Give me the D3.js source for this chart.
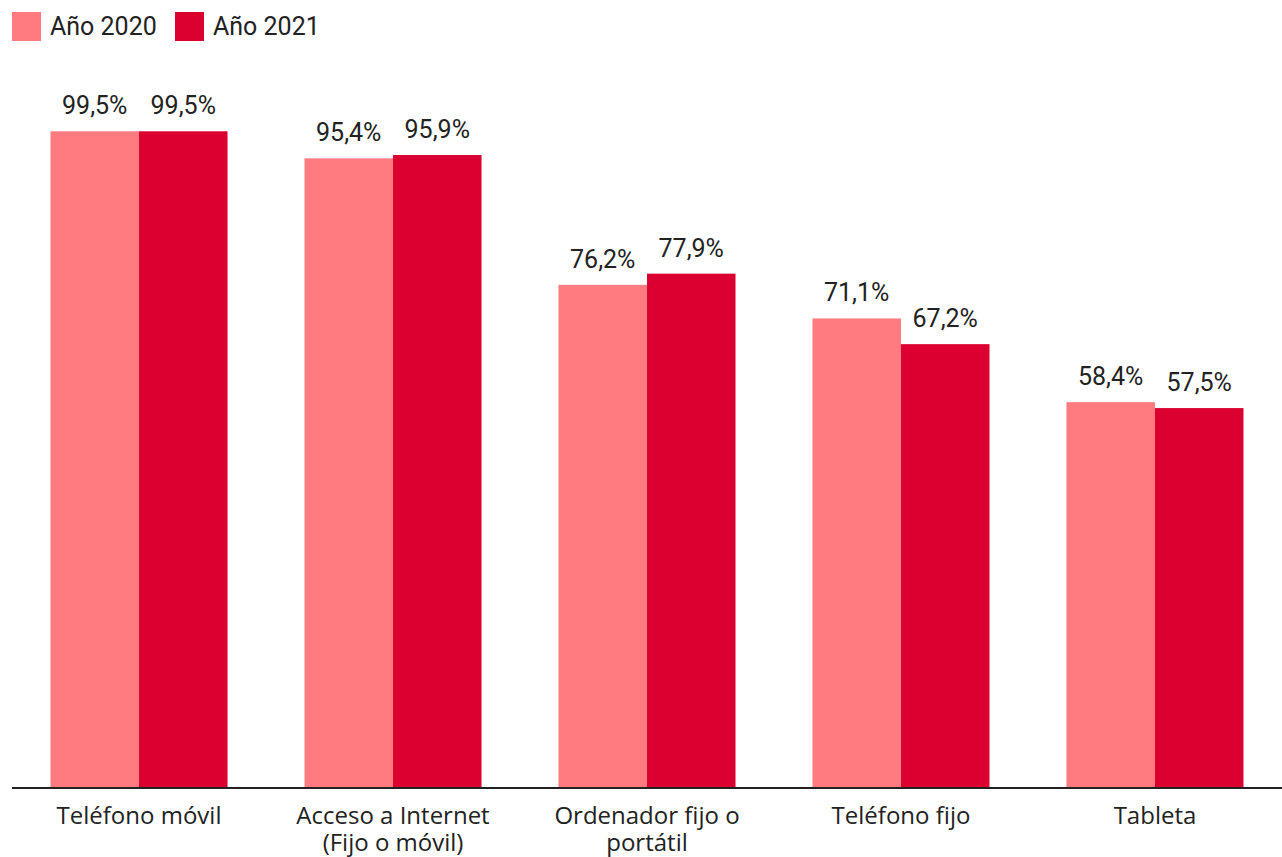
<!DOCTYPE html>
<html lang="es">
<head>
<meta charset="utf-8">
<script src="https://cdn.jsdelivr.net/npm/d3@7"></script>
<style>
  body { margin: 0; background: #fff; }
  svg { display: block; }
</style>
</head>
<body>
<svg width="1282" height="857"></svg>
<script>
  // datos
  var categories = [
    ["Teléfono móvil"],
    ["Acceso a Internet", "(Fijo o móvil)"],
    ["Ordenador fijo o", "portátil"],
    ["Teléfono fijo"],
    ["Tableta"]
  ];
  var series = ["Año 2020", "Año 2021"];
  var values2020 = [99.5, 95.4, 76.2, 71.1, 58.4];
  var values2021 = [99.5, 95.9, 77.9, 67.2, 57.5];
  var colors = ["#ff7b80", "#dc0030"];

  var svg = d3.select("svg");
  var baseY = 787;

  var keys = categories.map(function(c) { return c.join(" "); });
  var rows = keys.map(function(k, i) {
    return { key: k, lines: categories[i], vals: [values2020[i], values2021[i]] };
  });

  var x0 = d3.scaleBand().domain(keys).range([12, 1282])
      .paddingInner(0.303).paddingOuter(0.1516);
  var x1 = d3.scaleBand().domain(series).range([0, x0.bandwidth()]).padding(0);
  var y = d3.scaleLinear().domain([0, 100]).range([baseY, 128]);

  // leyenda
  var legend = svg.append("g");
  var lx = [12, 175];
  series.forEach(function(s, i) {
    legend.append("rect")
      .attr("x", lx[i]).attr("y", 12)
      .attr("width", 29).attr("height", 29)
      .attr("fill", colors[i]);
    legend.append("text")
      .attr("x", lx[i] + 38).attr("y", 35)
      .attr("font-family", "Roboto")
      .attr("font-size", "25px")
      .attr("fill", "#222")
      .text(s);
  });

  // barras
  var groups = svg.append("g").selectAll("g")
    .data(rows).enter().append("g")
    .attr("transform", function(d) { return "translate(" + x0(d.key) + ",0)"; });

  groups.selectAll("rect")
    .data(function(d) { return d.vals.map(function(v, i) { return { s: series[i], v: v, i: i }; }); })
    .enter().append("rect")
    .attr("x", function(d) { return x1(d.s); })
    .attr("y", function(d) { return y(d.v); })
    .attr("width", x1.bandwidth())
    .attr("height", function(d) { return baseY - y(d.v); })
    .attr("fill", function(d) { return colors[d.i]; });

  // etiquetas de valores
  groups.selectAll("text.val")
    .data(function(d) { return d.vals.map(function(v, i) { return { s: series[i], v: v }; }); })
    .enter().append("text")
    .attr("class", "val")
    .attr("x", function(d) { return x1(d.s) + x1.bandwidth() / 2; })
    .attr("y", function(d) { return y(d.v) - 17; })
    .attr("text-anchor", "middle")
    .attr("font-family", "Roboto")
    .attr("font-size", "25px")
    .attr("fill", "#222")
    .text(function(d) { return d3.format(".1f")(d.v).replace(".", ",") + "%"; });

  // eje x
  var axis = svg.append("g")
    .attr("transform", "translate(0," + (baseY + 1) + ")")
    .call(d3.axisBottom(x0).tickSize(0).tickFormat(""));
  axis.select(".domain").attr("stroke", "#222").attr("stroke-width", 2)
    .attr("d", "M12,0H1282");

  axis.selectAll(".tick").each(function(d, i) {
    var t = d3.select(this).select("text");
    t.attr("y", 0).attr("dy", null)
      .attr("font-family", "Open Sans")
      .attr("font-size", "24px")
      .attr("fill", "#222");
    rows[i].lines.forEach(function(line, j) {
      t.append("tspan").attr("x", 0).attr("y", 36 + j * 27).text(line);
    });
  });
</script>
</body>
</html>
